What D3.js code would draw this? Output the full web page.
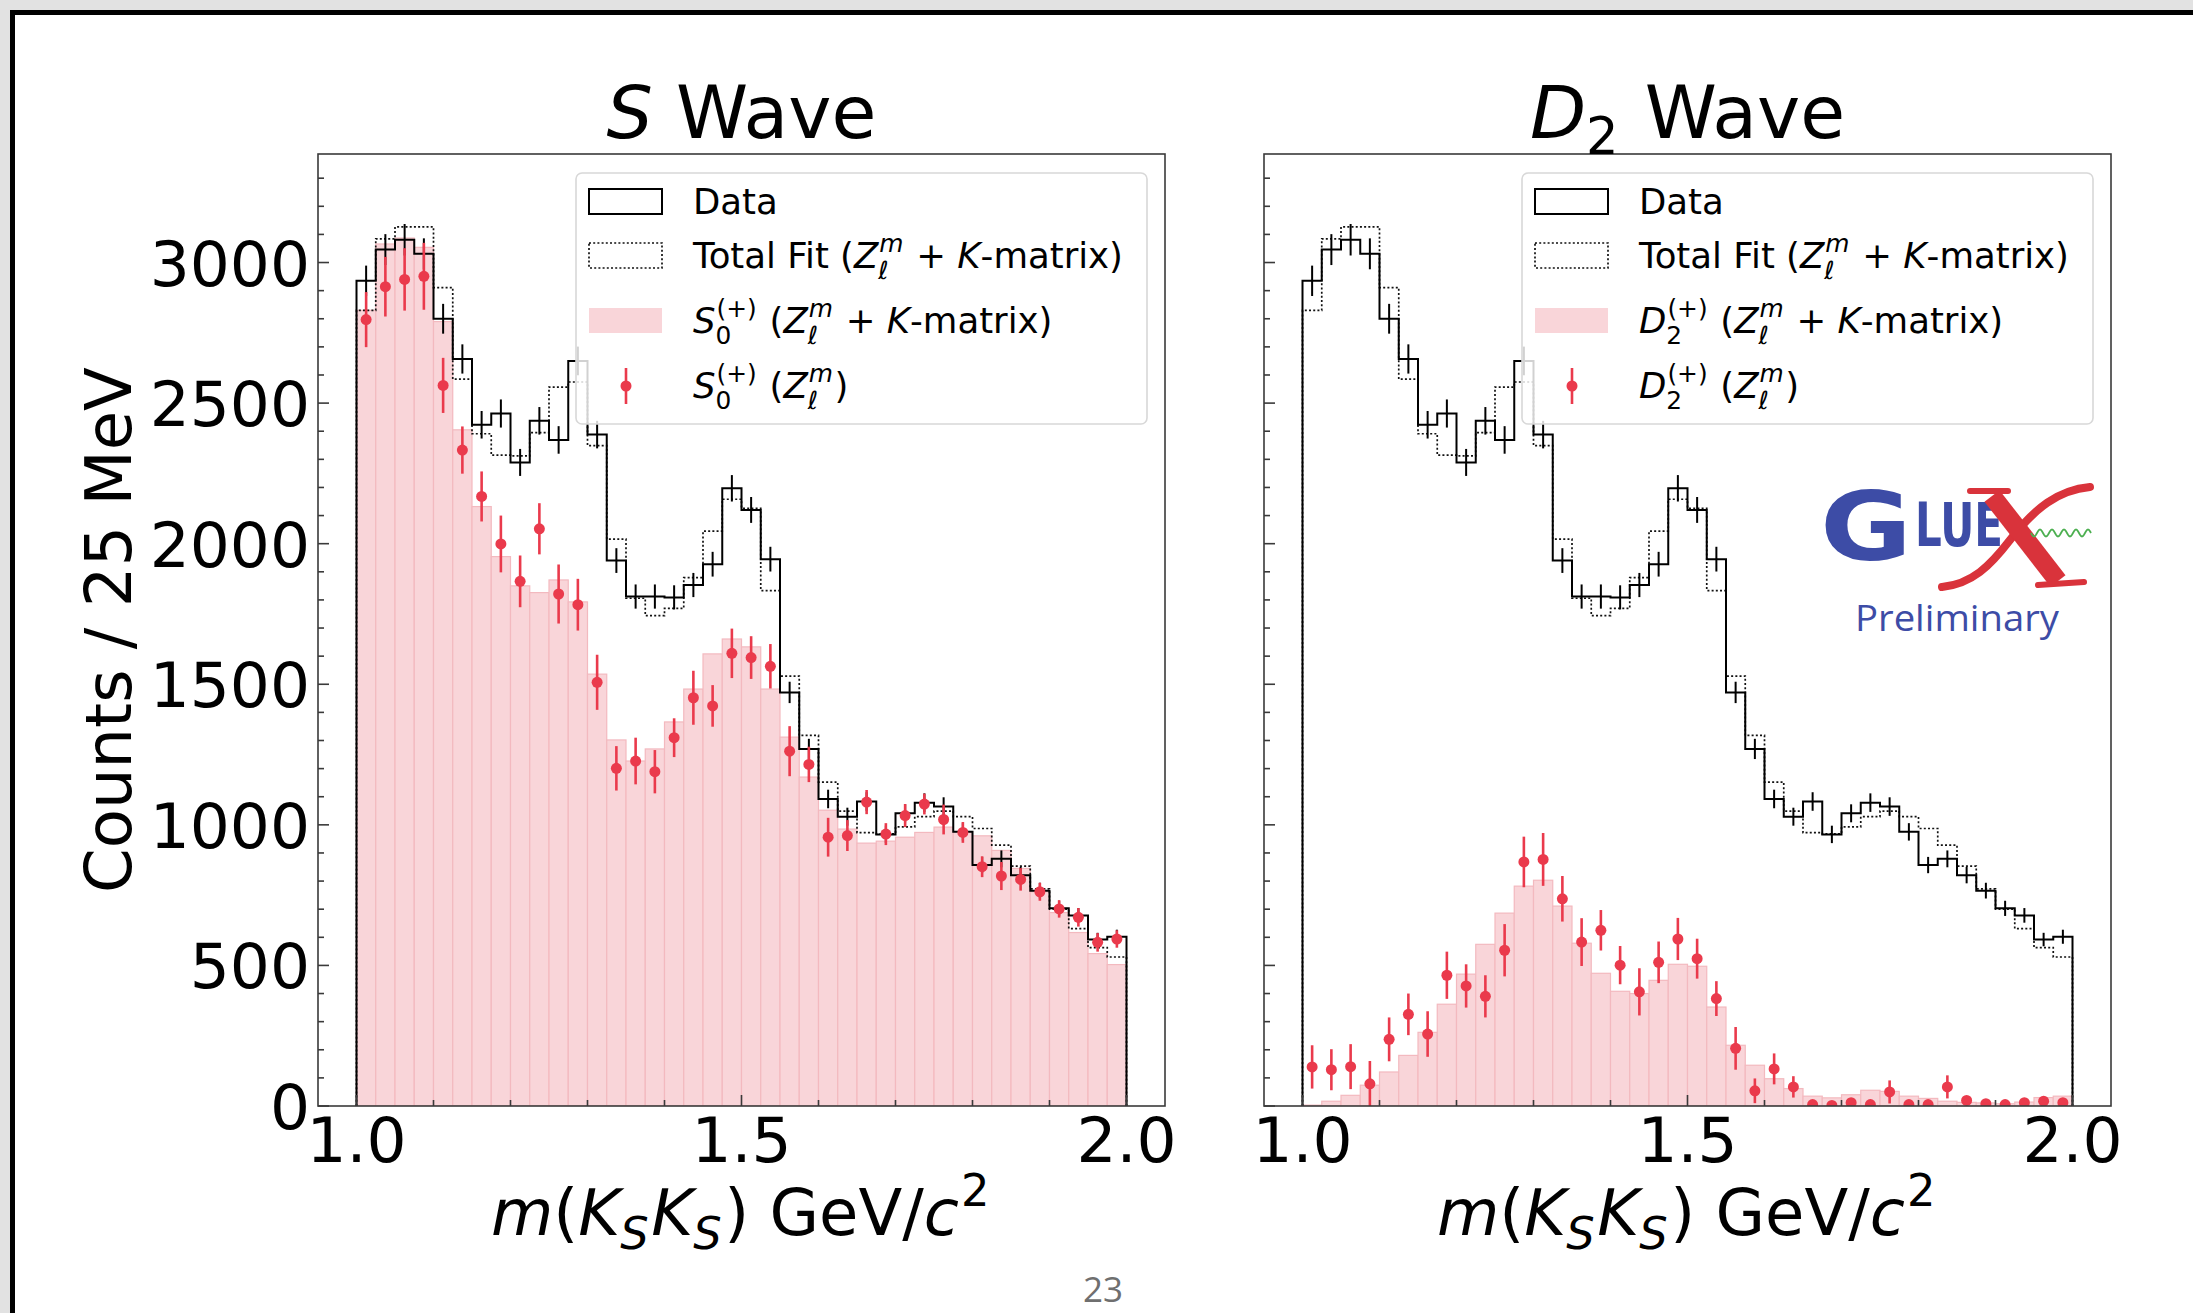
<!DOCTYPE html>
<html>
<head>
<meta charset="utf-8">
<script src="https://cdn.jsdelivr.net/npm/d3@7"></script>
<style>
  html, body { margin: 0; padding: 0; background: #fff; }
  svg { display: block; font-family: "DejaVu Sans", sans-serif; }
</style>
</head>
<body>
<svg id="chart" width="2193" height="1313"></svg>
<script>
// 40 bins of 25 MeV from 1.0 to 2.0 GeV
var binStart = 1.0, binWidth = 0.025;

var dataCounts = [2935, 3046, 3081, 3031, 2800, 2657, 2423, 2463, 2289, 2437,
                  2369, 2650, 2388, 1940, 1812, 1812, 1809, 1853, 1927, 2197,
                  2120, 1945, 1471, 1270, 1092, 1029, 1083, 966, 1041, 1079,
                  1065, 975, 857, 879, 821, 766, 703, 678, 592, 602];
var dataErr = [54, 55, 56, 55, 53, 52, 49, 50, 48, 49,
               49, 51, 49, 44, 43, 43, 43, 43, 44, 47,
               46, 44, 38, 36, 33, 32, 33, 31, 32, 33,
               33, 31, 29, 30, 29, 28, 27, 26, 24, 25];
var totalFit = [2830, 3084, 3127, 3127, 2911, 2585, 2391, 2315, 2312, 2395,
                2557, 2575, 2349, 2016, 1806, 1744, 1770, 1879, 2045, 2158,
                2126, 1833, 1529, 1318, 1152, 1049, 972, 968, 993, 1029,
                1049, 1029, 987, 928, 853, 772, 700, 631, 563, 530];

var sWaveFit = [2830, 3066, 3087, 3054, 2790, 2405, 2132, 1954, 1850, 1826,
                1871, 1793, 1536, 1302, 1227, 1270, 1366, 1483, 1608, 1661,
                1633, 1483, 1312, 1170, 1052, 985, 935, 942, 956, 973,
                992, 975, 961, 909, 845, 762, 688, 617, 542, 503];
var sWavePts = [2797, 2914, 2940, 2951, 2563, 2333, 2168, 1999, 1866, 2053,
                1821, 1783, 1507, 1201, 1227, 1189, 1310, 1452, 1423, 1610,
                1595, 1564, 1262, 1215, 956, 962, 1081, 967, 1033, 1074,
                1019, 973, 851, 818, 806, 762, 701, 671, 582, 594];
var sWaveErr = [98, 106, 111, 119, 98, 84, 89, 101, 92, 91,
                105, 92, 98, 79, 83, 77, 69, 96, 74, 88,
                76, 79, 89, 63, 69, 55, 43, 39, 41, 37,
                53, 37, 37, 50, 40, 32, 31, 33, 33, 31];

var dWaveFit = [3, 17, 38, 74, 121, 180, 262, 362, 469, 575,
                686, 782, 803, 711, 579, 472, 408, 400, 447, 504,
                497, 352, 216, 145, 97, 62, 35, 29, 40, 56,
                52, 35, 27, 17, 13, 11, 8, 14, 30, 35];
var dWavePts = [139, 129, 140, 79, 237, 326, 256, 465, 427, 390,
                554, 868, 877, 737, 583, 625, 501, 406, 511, 594,
                524, 382, 205, 54, 132, 68, 5, 2, 12, 5,
                50, 5, 5, 68, 20, 8, 5, 12, 17, 12];
var dWaveErr = [77, 73, 80, 81, 78, 74, 81, 84, 77, 75,
                93, 90, 94, 81, 85, 72, 68, 84, 74, 75,
                71, 62, 76, 44, 55, 38, 10, 10, 12, 10,
                41, 10, 10, 41, 14, 10, 10, 10, 12, 10];

var yMajorTicks = [0, 500, 1000, 1500, 2000, 2500, 3000];
var xMajorTicks = [1.0, 1.5, 2.0];
var xTickLabels = ["1.0", "1.5", "2.0"];

var RED = "#ea3a4c", PINK = "#f9d5d9", PINK_EDGE = "#f3b9bf";

var svg = d3.select("#chart");

// slide frame
svg.append("rect").attr("width", 2193).attr("height", 1313).attr("fill", "#e2e2e2");
svg.append("rect").attr("x", 10).attr("y", 10).attr("width", 2183).attr("height", 1303).attr("fill", "#000");
svg.append("rect").attr("x", 15).attr("y", 15).attr("width", 2178).attr("height", 1298).attr("fill", "#fff");

svg.append("text")
	.attr("x", 1103).attr("y", 1302)
	.attr("text-anchor", "middle")
	.style("font-family", "'Open Sans', sans-serif")
	.style("font-size", "35px")
	.attr("fill", "#6f6f6f")
	.text("23");

// mathtext-ish helper: tokens are {t, i} or {sup, sub, supI, subI}
function nb(s) {
	return s.replace(/ /g, "\u00a0");
}

function mathText(parent, tokens, fs) {
	var g = parent.append("g"), cx = 0;
	tokens.forEach(function(tok) {
		if (tok.t != null) {
			var el = g.append("text")
				.attr("x", cx).attr("y", 0)
				.style("font-size", fs + "px")
				.style("font-style", tok.i ? "italic" : "normal")
				.text(nb(tok.t));
			cx += el.node().getComputedTextLength();
		} else {
			var both = tok.sup != null && tok.sub != null, w = 0;
			if (tok.sup != null) {
				var sp = g.append("text")
					.attr("x", cx + 0.03 * fs).attr("y", -0.45 * fs)
					.style("font-size", 0.7 * fs + "px")
					.style("font-style", tok.supI ? "italic" : "normal")
					.text(tok.sup);
				w = Math.max(w, sp.node().getComputedTextLength() + 0.03 * fs);
			}
			if (tok.sub != null) {
				var sb = g.append("text")
					.attr("x", cx).attr("y", (both ? 0.3 : 0.22) * fs)
					.style("font-size", 0.7 * fs + "px")
					.style("font-style", tok.subI ? "italic" : "normal")
					.text(tok.sub);
				w = Math.max(w, sb.node().getComputedTextLength());
			}
			cx += w + 0.04 * fs;
		}
	});
	return {g: g, width: cx};
}

var Zlm = {sup: "m", supI: true, sub: "\u2113", subI: true};

function stepPoints(vals) {
	var pts = [[binStart, 0]];
	vals.forEach(function(v, i) {
		pts.push([binStart + i * binWidth, v]);
		pts.push([binStart + (i + 1) * binWidth, v]);
	});
	pts.push([binStart + vals.length * binWidth, 0]);
	return pts;
}

var axTop = 154, axBottom = 1106;
var y = d3.scaleLinear().domain([0, 3386]).range([axBottom, axTop]);

function drawPanel(p) {
	var x = d3.scaleLinear().domain([0.95, 2.05]).range([p.x0, p.x1]);
	var g = svg.append("g").attr("class", "panel");

	g.append("clipPath").attr("id", "clip" + p.id)
		.append("rect")
		.attr("x", p.x0).attr("y", axTop)
		.attr("width", p.x1 - p.x0).attr("height", axBottom - axTop);

	var plot = g.append("g").attr("clip-path", "url(#clip" + p.id + ")");

	// component fit as pink bars
	plot.selectAll("rect.fit").data(p.fit).enter().append("rect")
		.attr("class", "fit")
		.attr("x", function(d, i) {return x(binStart + i * binWidth);})
		.attr("width", function(d, i) {return x(binStart + (i + 1) * binWidth) - x(binStart + i * binWidth);})
		.attr("y", function(d) {return y(d);})
		.attr("height", function(d) {return y(0) - y(d);})
		.attr("fill", PINK)
		.attr("stroke", PINK_EDGE)
		.attr("stroke-width", 1.2)
	;

	var line = d3.line().x(function(d) {return x(d[0]);}).y(function(d) {return y(d[1]);});

	plot.append("path")
		.attr("d", line(stepPoints(totalFit)))
		.attr("fill", "none")
		.attr("stroke", "#111")
		.attr("stroke-width", 1.7)
		.attr("stroke-dasharray", "2,2.2")
	;
	plot.append("path")
		.attr("d", line(stepPoints(dataCounts)))
		.attr("fill", "none")
		.attr("stroke", "#000")
		.attr("stroke-width", 2)
	;
	plot.selectAll("line.derr").data(dataCounts).enter().append("line")
		.attr("class", "derr")
		.attr("x1", function(d, i) {return x(binStart + (i + 0.5) * binWidth);})
		.attr("x2", function(d, i) {return x(binStart + (i + 0.5) * binWidth);})
		.attr("y1", function(d, i) {return y(d - dataErr[i]);})
		.attr("y2", function(d, i) {return y(d + dataErr[i]);})
		.attr("stroke", "#000")
		.attr("stroke-width", 2)
	;

	// amplitude points
	plot.selectAll("line.perr").data(p.pts).enter().append("line")
		.attr("class", "perr")
		.attr("x1", function(d, i) {return x(binStart + (i + 0.5) * binWidth);})
		.attr("x2", function(d, i) {return x(binStart + (i + 0.5) * binWidth);})
		.attr("y1", function(d, i) {return y(d - p.err[i]);})
		.attr("y2", function(d, i) {return y(d + p.err[i]);})
		.attr("stroke", RED)
		.attr("stroke-width", 2.6)
	;
	plot.selectAll("circle.pt").data(p.pts).enter().append("circle")
		.attr("class", "pt")
		.attr("cx", function(d, i) {return x(binStart + (i + 0.5) * binWidth);})
		.attr("cy", function(d) {return y(d);})
		.attr("r", 5.5)
		.attr("fill", RED)
	;

	// spines
	g.append("rect")
		.attr("x", p.x0).attr("y", axTop)
		.attr("width", p.x1 - p.x0).attr("height", axBottom - axTop)
		.attr("fill", "none")
		.attr("stroke", "#3a3a3a")
		.attr("stroke-width", 1.6)
	;

	// ticks, pointing inward
	var yMinor = d3.range(0, 3400, 100).filter(function(v) {return v % 500 != 0;});
	var xMinor = d3.range(11, 20).filter(function(v) {return v != 15;}).map(function(v) {return v / 10;});
	var ticks = g.append("g").attr("stroke", "#3a3a3a").attr("stroke-width", 1.6);
	yMajorTicks.forEach(function(v) {
		ticks.append("line").attr("x1", p.x0).attr("x2", p.x0 + 11).attr("y1", y(v)).attr("y2", y(v));
	});
	yMinor.forEach(function(v) {
		ticks.append("line").attr("x1", p.x0).attr("x2", p.x0 + 6).attr("y1", y(v)).attr("y2", y(v));
	});
	xMajorTicks.forEach(function(v) {
		ticks.append("line").attr("x1", x(v)).attr("x2", x(v)).attr("y1", axBottom).attr("y2", axBottom - 11);
	});
	xMinor.forEach(function(v) {
		ticks.append("line").attr("x1", x(v)).attr("x2", x(v)).attr("y1", axBottom).attr("y2", axBottom - 6);
	});

	g.selectAll("text.xt").data(xMajorTicks).enter().append("text")
		.attr("class", "xt")
		.attr("x", function(d) {return x(d);})
		.attr("y", 1162)
		.attr("text-anchor", "middle")
		.style("font-size", "63px")
		.text(function(d, i) {return xTickLabels[i];})
	;
	if (p.yLabels) {
		g.selectAll("text.yt").data(yMajorTicks).enter().append("text")
			.attr("class", "yt")
			.attr("x", p.x0 - 8)
			.attr("y", function(d) {return y(d) + 23;})
			.attr("text-anchor", "end")
			.style("font-size", "63px")
			.text(function(d) {return d;})
		;
		g.append("text")
			.attr("transform", "translate(131," + ((axTop + axBottom) / 2) + ") rotate(-90)")
			.attr("text-anchor", "middle")
			.style("font-size", "64px")
			.text("Counts / 25 MeV");
	}

	// title and x label
	var cxAxis = (p.x0 + p.x1) / 2;
	var title = mathText(g, p.title, 73);
	title.g.attr("transform", "translate(" + (cxAxis - title.width / 2) + ",138)");

	var xl = mathText(g, [{t: "m", i: true}, {t: "("}, {t: "K", i: true}, {sub: "S", subI: true},
		{t: "K", i: true}, {sub: "S", subI: true}, {t: ") GeV/"}, {t: "c", i: true}, {sup: "2"}], 64);
	xl.g.attr("transform", "translate(" + (cxAxis - xl.width / 2) + ",1235)");

	// legend
	var dx = p.x0 - 318;
	var leg = g.append("g").attr("transform", "translate(" + dx + ",0)");
	leg.append("rect")
		.attr("x", 576).attr("y", 173).attr("width", 571).attr("height", 251)
		.attr("rx", 6)
		.attr("fill", "#fff").attr("fill-opacity", 0.82)
		.attr("stroke", "#d8d8d8").attr("stroke-width", 1.6);
	leg.append("rect").attr("x", 589).attr("y", 189).attr("width", 73).attr("height", 25)
		.attr("fill", "none").attr("stroke", "#000").attr("stroke-width", 2);
	leg.append("rect").attr("x", 589).attr("y", 243).attr("width", 73).attr("height", 25)
		.attr("fill", "none").attr("stroke", "#111").attr("stroke-width", 1.7).attr("stroke-dasharray", "2,2.2");
	leg.append("rect").attr("x", 589).attr("y", 308).attr("width", 73).attr("height", 25)
		.attr("fill", PINK);
	leg.append("line").attr("x1", 626).attr("x2", 626).attr("y1", 368).attr("y2", 404)
		.attr("stroke", RED).attr("stroke-width", 2.6);
	leg.append("circle").attr("cx", 626).attr("cy", 386).attr("r", 5.5).attr("fill", RED);

	var labels = [
		{y: 214, tokens: [{t: "Data"}]},
		{y: 268, tokens: [{t: "Total Fit ("}, {t: "Z", i: true}, Zlm, {t: " + "}, {t: "K", i: true}, {t: "-matrix)"}]},
		{y: 333, tokens: [{t: p.wave, i: true}, {sup: "(+)", sub: p.waveSub}, {t: " ("}, {t: "Z", i: true}, Zlm,
			{t: " + "}, {t: "K", i: true}, {t: "-matrix)"}]},
		{y: 398, tokens: [{t: p.wave, i: true}, {sup: "(+)", sub: p.waveSub}, {t: " ("}, {t: "Z", i: true}, Zlm, {t: ")"}]}
	];
	labels.forEach(function(l) {
		var m = mathText(leg, l.tokens, 35.5);
		m.g.attr("transform", "translate(693," + l.y + ")");
	});
	return g;
}

drawPanel({id: "S", x0: 318, x1: 1165, fit: sWaveFit, pts: sWavePts, err: sWaveErr, yLabels: true,
	title: [{t: "S", i: true}, {t: " Wave"}], wave: "S", waveSub: "0"});
var right = drawPanel({id: "D", x0: 1264, x1: 2111, fit: dWaveFit, pts: dWavePts, err: dWaveErr, yLabels: false,
	title: [{t: "D", i: true}, {sub: "2"}, {t: " Wave"}], wave: "D", waveSub: "2"});

// GlueX Preliminary logo
var logo = right.append("g");
logo.append("text")
	.attr("x", 1820).attr("y", 560)
	.attr("textLength", 92).attr("lengthAdjust", "spacingAndGlyphs")
	.style("font-size", "94px").style("font-weight", "bold")
	.attr("fill", "#3d4ca6")
	.text("G");
logo.append("text")
	.attr("x", 1915).attr("y", 546)
	.attr("textLength", 88).attr("lengthAdjust", "spacingAndGlyphs")
	.style("font-size", "61px").style("font-weight", "bold")
	.attr("fill", "#3d4ca6")
	.text("LUE");
var xRed = "#d9333b";
logo.append("path")
	.attr("d", "M1942,587 C1972,584 1990,566 2010,540 C2035,508 2058,490 2090,487")
	.attr("fill", "none").attr("stroke", xRed).attr("stroke-width", 8).attr("stroke-linecap", "round");
logo.append("path")
	.attr("d", "M1992,496 L2058,581")
	.attr("fill", "none").attr("stroke", xRed).attr("stroke-width", 19).attr("stroke-linecap", "butt");
logo.append("path")
	.attr("d", "M1970,491 L2008,491 M2038,585 L2084,582")
	.attr("fill", "none").attr("stroke", xRed).attr("stroke-width", 6).attr("stroke-linecap", "round");
var wave = d3.range(0, 61).map(function(k) {return [2031 + k, 533 + 3.5 * Math.sin(k / 60 * 5 * 2 * Math.PI)];});
logo.append("path")
	.attr("d", d3.line()(wave))
	.attr("fill", "none").attr("stroke", "#4caf50").attr("stroke-width", 1.8);
logo.append("text")
	.attr("x", 1855).attr("y", 631)
	.attr("textLength", 204).attr("lengthAdjust", "spacingAndGlyphs")
	.style("font-family", "'Open Sans', sans-serif")
	.style("font-size", "37px")
	.attr("fill", "#3d4ca6")
	.text("Preliminary");
</script>
</body>
</html>
